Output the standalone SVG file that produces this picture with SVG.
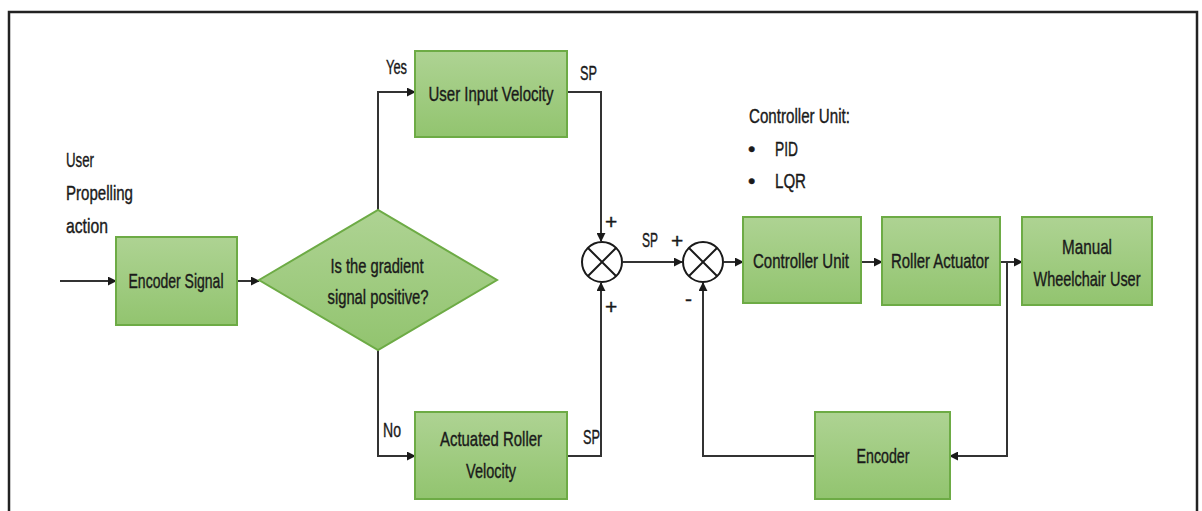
<svg xmlns="http://www.w3.org/2000/svg" width="1202" height="511" viewBox="0 0 1202 511">
  <defs>
    <linearGradient id="boxFill" x1="0" y1="0" x2="0" y2="1">
      <stop offset="0" stop-color="#aed393"/>
      <stop offset="1" stop-color="#92c46f"/>
    </linearGradient>
    <marker id="arrowhead" viewBox="0 0 10 10" refX="9" refY="5" markerWidth="9" markerHeight="9" orient="auto" markerUnits="userSpaceOnUse">
      <path d="M0,0 L10,5 L0,10 z" fill="#1a1a1a"/>
    </marker>
  </defs>
  <style>
    .box { fill: url(#boxFill); stroke: #6dab45; stroke-width: 2; }
    .lbl { font-family: "Liberation Sans", Arial, sans-serif; font-size: 21px; fill: #1a1a1a; stroke: #1a1a1a; stroke-width: 0.4px; }
    .mid { text-anchor: middle; }
    .wire { fill: none; stroke: #333333; stroke-width: 2; }
    .arr { marker-end: url(#arrowhead); }
    .sum { fill: #ffffff; stroke: #1a1a1a; stroke-width: 2; }
  </style>

  <rect width="1202" height="511" fill="#ffffff"/>
  <!-- outer frame -->
  <rect x="9" y="12" width="1188" height="520" fill="none" stroke="#222222" stroke-width="2.5"/>

  <!-- connectors -->
  <g id="connectors">
    <path class="wire arr" d="M60,281 L116,281"/>
    <path class="wire arr" d="M237,281 L259,281"/>
    <path class="wire arr" d="M378,210 L378,92 L415,92"/>
    <path class="wire arr" d="M378,350 L378,456 L415,456"/>
    <path class="wire arr" d="M567,92 L601,92 L601,241"/>
    <path class="wire arr" d="M567,456 L601,456 L601,283"/>
    <path class="wire arr" d="M623,262 L682,262"/>
    <path class="wire arr" d="M724,262 L743,262"/>
    <path class="wire arr" d="M861,262 L882,262"/>
    <path class="wire arr" d="M1000,262 L1022,262"/>
    <path class="wire arr" d="M1007,262 L1007,456 L950,456"/>
    <path class="wire arr" d="M815,456 L703,456 L703,283"/>
  </g>

  <!-- free labels -->
  <g id="input-label">
    <text class="lbl" x="66" y="167" textLength="28" lengthAdjust="spacingAndGlyphs">User</text>
    <text class="lbl" x="66" y="200" textLength="67" lengthAdjust="spacingAndGlyphs">Propelling</text>
    <text class="lbl" x="66" y="233" textLength="42" lengthAdjust="spacingAndGlyphs">action</text>
  </g>
  <g id="controller-note">
    <text class="lbl" x="749" y="123" textLength="101" lengthAdjust="spacingAndGlyphs">Controller Unit:</text>
    <text class="lbl" x="748" y="156">•</text>
    <text class="lbl" x="775" y="156" textLength="23" lengthAdjust="spacingAndGlyphs">PID</text>
    <text class="lbl" x="748" y="188">•</text>
    <text class="lbl" x="775" y="188" textLength="31" lengthAdjust="spacingAndGlyphs">LQR</text>
  </g>
  <g id="branch-labels">
    <text class="lbl" x="386" y="74" textLength="21" lengthAdjust="spacingAndGlyphs">Yes</text>
    <text class="lbl" x="383" y="437" textLength="18" lengthAdjust="spacingAndGlyphs">No</text>
    <text class="lbl" x="580" y="80" textLength="17" lengthAdjust="spacingAndGlyphs">SP</text>
    <text class="lbl" x="583" y="444" textLength="17" lengthAdjust="spacingAndGlyphs">SP</text>
    <text class="lbl" x="642" y="247" textLength="16" lengthAdjust="spacingAndGlyphs">SP</text>
    <text class="lbl" x="605" y="229">+</text>
    <text class="lbl" x="605" y="314">+</text>
    <text class="lbl" x="671" y="248">+</text>
    <text class="lbl" x="685" y="306">-</text>
  </g>

  <!-- nodes -->
  <g id="encoder-signal">
    <rect class="box" x="116" y="237" width="121" height="88"/>
    <text class="lbl mid" x="176" y="288" textLength="95" lengthAdjust="spacingAndGlyphs">Encoder Signal</text>
  </g>
  <g id="gradient-check">
    <polygon class="box" points="259,280 378,210 497,280 378,350"/>
    <text class="lbl mid" x="377" y="273" textLength="93" lengthAdjust="spacingAndGlyphs">Is the gradient</text>
    <text class="lbl mid" x="378" y="304" textLength="101" lengthAdjust="spacingAndGlyphs">signal positive?</text>
  </g>
  <g id="user-input-velocity">
    <rect class="box" x="415" y="51" width="152" height="86"/>
    <text class="lbl mid" x="491" y="101" textLength="125" lengthAdjust="spacingAndGlyphs">User Input Velocity</text>
  </g>
  <g id="actuated-roller-velocity">
    <rect class="box" x="415" y="412" width="152" height="87"/>
    <text class="lbl mid" x="491" y="446" textLength="102" lengthAdjust="spacingAndGlyphs">Actuated Roller</text>
    <text class="lbl mid" x="491" y="478" textLength="50" lengthAdjust="spacingAndGlyphs">Velocity</text>
  </g>
  <g id="sum-1">
    <circle class="sum" cx="602" cy="262" r="20"/>
    <path d="M588,248 L616,276 M616,248 L588,276" stroke="#1a1a1a" stroke-width="2"/>
  </g>
  <g id="sum-2">
    <circle class="sum" cx="703" cy="262" r="20"/>
    <path d="M689,248 L717,276 M717,248 L689,276" stroke="#1a1a1a" stroke-width="2"/>
  </g>
  <g id="controller-unit">
    <rect class="box" x="743" y="217" width="118" height="86"/>
    <text class="lbl mid" x="801" y="268" textLength="96" lengthAdjust="spacingAndGlyphs">Controller Unit</text>
  </g>
  <g id="roller-actuator">
    <rect class="box" x="882" y="217" width="118" height="88"/>
    <text class="lbl mid" x="940" y="268" textLength="98" lengthAdjust="spacingAndGlyphs">Roller Actuator</text>
  </g>
  <g id="wheelchair-user">
    <rect class="box" x="1022" y="217" width="130" height="88"/>
    <text class="lbl mid" x="1087" y="254" textLength="50" lengthAdjust="spacingAndGlyphs">Manual</text>
    <text class="lbl mid" x="1087" y="286" textLength="107" lengthAdjust="spacingAndGlyphs">Wheelchair User</text>
  </g>
  <g id="encoder">
    <rect class="box" x="815" y="412" width="135" height="87"/>
    <text class="lbl mid" x="883" y="463" textLength="53" lengthAdjust="spacingAndGlyphs">Encoder</text>
  </g>
</svg>
